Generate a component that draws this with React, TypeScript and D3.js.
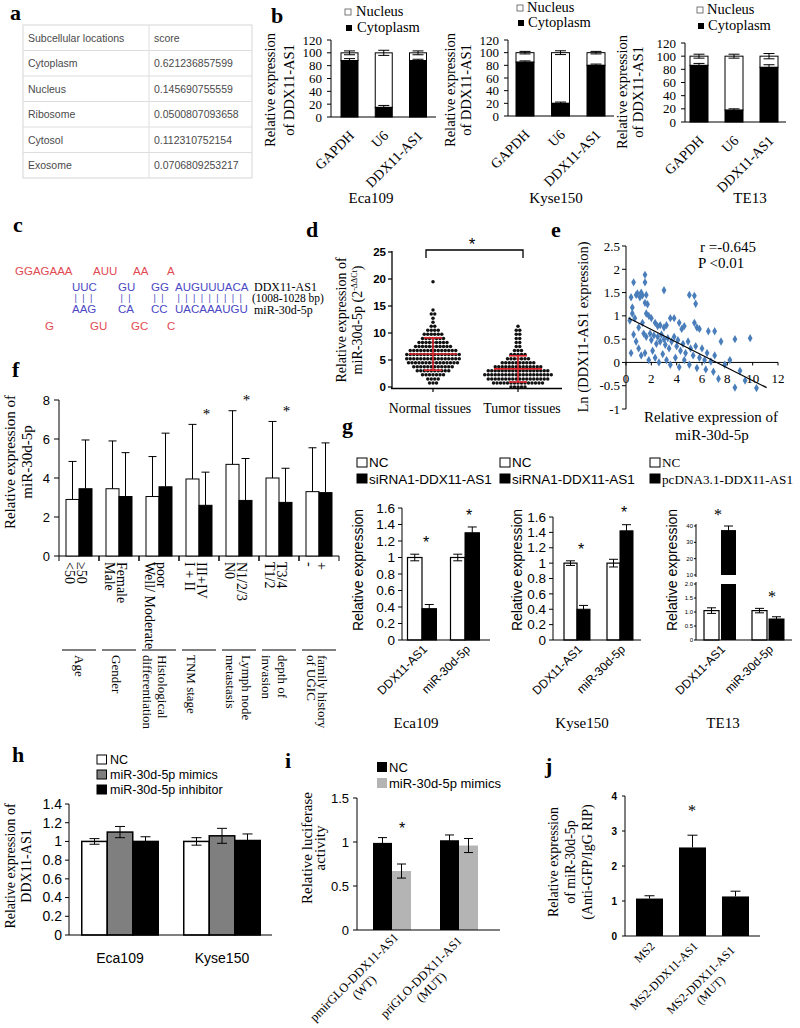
import React from "react";
import * as d3 from "d3";

const SERIF = "'Liberation Serif', 'Times New Roman', Times, serif";
const SANS = "'Liberation Sans', Arial, Helvetica, sans-serif";

// ---------------- a ----------------
const locNames = ["Cytoplasm", "Nucleus", "Ribosome", "Cytosol", "Exosome"];
const locScores = ["0.621236857599", "0.145690755559", "0.0500807093658", "0.112310752154", "0.0706809253217"];

// ---------------- b ----------------
const bGenes = ["GAPDH", "U6", "DDX11-AS1"];
const bCellLines = ["Eca109", "Kyse150", "TE13"];
const bCytoplasm = [[88, 15, 88], [85, 20, 80], [86, 18, 83]];
const bCytoErr = [[3, 3, 2], [2, 2, 2], [3, 2, 4]];
const bTotal = [[100, 100, 100], [100, 100, 100], [100, 100, 100]];
const bTotalErr = [[3, 4, 3], [2, 3, 2], [3, 3, 4]];
const bTicks = [0, 20, 40, 60, 80, 100, 120];

// ---------------- c ----------------
const cTopLoops = ["GGAGAAA", "AUU", "AA", "A"];
const cLncPaired = ["UUC", "GU", "GG", "AUGUUUACA"];
const cMirPaired = ["AAG", "CA", "CC", "UACAAAUGU"];
const cBottomLoops = ["G", "GU", "GC", "C"];
const cNames = ["DDX11-AS1", "(1008-1028 bp)", "miR-30d-5p"];

// ---------------- d ----------------
const dGroups = ["Normal tissues", "Tumor tissues"];
const dNormal = [
  0.6, 0.8, 0.9, 1.3, 1.5, 1.6, 1.7, 2.0, 2.1, 2.2, 2.3, 2.4, 2.5, 2.2,
  2.7, 2.8, 2.9, 3.0, 3.1, 3.2, 3.0, 2.9, 3.3, 2.8, 3.4, 3.5, 3.6, 3.7, 3.8, 3.9, 4.0, 3.6, 3.7, 3.8, 3.5, 4.1,
  4.2, 4.3, 4.4, 4.5, 4.6, 4.7, 4.8, 4.4, 4.5, 4.6, 4.3, 4.7, 4.2, 4.5, 4.8,
  4.9, 5.0, 5.1, 5.2, 5.3, 5.4, 5.5, 5.6, 5.0, 5.1, 5.2, 5.3, 5.4, 5.5, 4.9, 5.2,
  5.7, 5.8, 5.9, 6.0, 6.1, 6.2, 6.3, 5.8, 5.9, 6.0, 6.1, 6.2, 5.7, 6.3, 6.0, 5.9,
  6.4, 6.5, 6.6, 6.7, 6.8, 6.9, 7.0, 6.5, 6.6, 6.7, 6.8, 6.9, 6.4, 7.0,
  7.2, 7.3, 7.4, 7.5, 7.6, 7.7, 7.3, 7.4, 7.5, 7.6, 7.8, 7.9, 8.0, 8.2, 8.4, 8.5, 8.1, 8.3, 8.6, 8.0,
  8.7, 8.9, 9.0, 9.2, 9.3, 8.8, 9.1, 9.5, 9.7, 9.8, 10.0, 10.1, 9.9, 10.3, 10.5, 10.7, 10.4,
  11.0, 11.4, 12.1, 12.8, 13.4, 13.7, 14.2, 19.3,
];
const dTumor = [
  0.3, 0.2, 0.4, 0.3, 0.2, 0.35, 0.6, 0.7, 0.8, 0.9, 1.0, 1.1, 0.6, 0.7, 0.8, 0.9, 1.0, 0.8, 0.7, 1.1,
  1.2, 1.3, 1.4, 1.5, 1.6, 1.7, 1.8, 1.2, 1.3, 1.4, 1.5, 1.6, 1.7, 1.4, 1.5, 1.6, 1.3, 1.8,
  1.9, 2.0, 2.1, 2.2, 2.3, 2.4, 2.5, 2.6, 1.9, 2.0, 2.1, 2.2, 2.3, 2.4, 2.5, 2.2, 2.1, 2.3, 2.0, 2.4,
  2.7, 2.8, 2.9, 3.0, 3.1, 3.2, 3.3, 2.8, 2.9, 3.0, 3.1, 3.2, 2.7, 3.0, 2.9, 3.1, 3.3, 2.8,
  3.4, 3.5, 3.6, 3.7, 3.8, 3.9, 4.0, 3.5, 3.6, 3.7, 3.8, 3.9, 3.6, 3.7,
  4.2, 4.3, 4.5, 4.6, 4.8, 4.4, 4.5, 4.7, 4.3, 4.6, 4.9, 5.1, 5.3, 5.5, 5.0, 5.4, 5.2,
  5.7, 5.9, 6.1, 6.3, 6.0, 6.5, 6.8, 7.0, 7.4, 7.6, 8.0, 8.4, 8.8, 9.2, 9.6, 9.9, 10.3, 10.7, 11.1,
];
const dTicks = [0, 5, 10, 15, 20, 25];

// ---------------- e ----------------
const eX = [
  0.4, 0.5, 0.5, 0.6, 0.8, 0.9, 1.1, 1.2, 1.3, 1.5, 1.5, 1.5, 1.6, 1.7, 1.6, 1.8, 0.3, 0.7,
  2.0, 2.3, 2.5, 2.7, 3.0, 3.2, 3.5, 3.8, 4.2, 4.4, 4.6, 3.0, 5.0, 5.4, 5.5, 5.4, 5.6, 5.8, 6.5, 7.0, 7.5, 8.6, 9.8,
  1.4, 1.6, 1.9, 2.0, 2.2, 2.4, 2.5, 2.7, 2.8, 3.0, 3.1, 3.3, 3.4, 3.6, 3.8, 4.0, 4.1, 4.3, 4.5, 4.7, 4.9, 5.1, 5.3, 5.5, 5.8, 6.0, 6.2, 6.4, 6.7, 7.0,
  0.8, 1.0, 1.2, 1.5, 1.8, 2.1, 2.3, 2.6, 2.9, 3.2, 3.5, 3.9, 4.2, 4.6, 5.0, 5.6, 6.3, 6.9, 7.3, 7.8, 8.2, 8.6, 9.0, 9.4, 10.3, 0.4, 0.6, 1.0, 1.3,
];
const eY = [
  1.40, 1.05, 1.18, 1.72, 1.45, 1.48, 1.40, 1.50, 1.44, 1.72, 1.88, 1.28, 1.45, 1.25, 1.05, 1.00, 0.90, 0.95,
  0.95, 0.85, 0.78, 0.80, 0.75, 0.80, 0.95, 0.95, 0.85, 0.72, 0.78, 1.55, 1.45, 1.43, 1.26, 0.85, 0.75, 0.72, 0.67, 0.67, 0.45, 0.50, 0.52,
  0.62, 0.55, 0.62, 0.48, 0.58, 0.40, 0.55, 0.45, 0.60, 0.50, 0.38, 0.52, 0.30, 0.45, 0.55, 0.35, 0.48, 0.25, 0.40, 0.20, 0.45, 0.30, 0.15, 0.35, 0.10, 0.30, 0.05, 0.20, 0.02, 0.15,
  0.45, 0.30, 0.15, 0.20, 0.05, 0.25, 0.10, 0.00, 0.18, 0.05, -0.05, 0.10, -0.10, 0.05, -0.05, -0.12, -0.15, -0.20, -0.35, -0.05, 0.05, -0.54, -0.18, -0.39, -0.55, 0.20, 0.60, 0.75, 0.85,
];
const eFitIntercept = 0.98;
const eFitSlope = -0.137;
const eFitRange = [0.2, 11.1];
const eXTicks = [0, 2, 4, 6, 8, 10, 12];
const eYTicks = [-1, -0.5, 0, 0.5, 1, 1.5, 2, 2.5];

// ---------------- f ----------------
const fGroups = ["Age", "Gender", "Histological differentiation", "TNM stage", "Lymph node metastasis", "depth of invasion", "family history of UGIC"];
const fGroupLines = [["Age"], ["Gender"], ["Histological", "differentiation"], ["TNM stage"], ["Lymph node", "metastasis"], ["depth of", "invasion"], ["family history", "of UGIC"]];
const fSubLabels = [["<50", "≥50"], ["Male", "Female"], ["Well/ Moderate", "poor"], ["I + II", "III+IV"], ["N0", "N1/2/3"], ["T1/2", "T3/4"], ["-", "+"]];
const fWhite = [2.9, 3.45, 3.05, 3.95, 4.7, 4.0, 3.3];
const fWhiteSD = [1.95, 2.45, 2.05, 2.8, 2.75, 2.9, 2.25];
const fBlack = [3.45, 3.05, 3.55, 2.6, 2.85, 2.75, 3.25];
const fBlackSD = [2.5, 2.25, 2.75, 1.7, 2.15, 1.75, 2.55];
const fSignificant = [false, false, false, true, true, true, false];
const fTicks = [0, 2, 4, 6, 8];

// ---------------- g ----------------
const gCellLines = ["Eca109", "Kyse150", "TE13"];
const gGenes = ["DDX11-AS1", "miR-30d-5p"];
const gTreatNames = ["siRNA1-DDX11-AS1", "siRNA1-DDX11-AS1", "pcDNA3.1-DDX11-AS1"];
const gNC = [[1.0, 1.0], [1.0, 1.0], [1.05, 1.05]];
const gNCErr = [[0.04, 0.04], [0.03, 0.05], [0.1, 0.08]];
const gTreat = [[0.38, 1.3], [0.4, 1.42], [37.5, 0.75]];
const gTreatErr = [[0.05, 0.07], [0.05, 0.08], [2.5, 0.08]];
const gTicks = [0, 0.2, 0.4, 0.6, 0.8, 1, 1.2, 1.4, 1.6];
const gLowTicks = [0, 0.5, 1, 1.5, 2];
const gLowTickLabels = ["0", "0.5", "1.0", "1.5", "2.0"];
const gHighTicks = [10, 20, 30, 40];

// ---------------- h ----------------
const hCells = ["Eca109", "Kyse150"];
const hGroups = ["NC", "miR-30d-5p mimics", "miR-30d-5p inhibitor"];
const hValues = [[1.0, 1.1, 1.0], [1.0, 1.06, 1.01]];
const hErr = [[0.03, 0.06, 0.05], [0.04, 0.08, 0.07]];
const hColors = ["#ffffff", "#7f7f7f", "#000000"];
const hTicks = [0, 0.2, 0.4, 0.6, 0.8, 1, 1.2, 1.4];

// ---------------- i ----------------
const iConstructs = [["pmirGLO-DDX11-AS1", "(WT)"], ["priGLO-DDX11-AS1", "(MUT)"]];
const iGroups = ["NC", "miR-30d-5p mimics"];
const iNC = [0.99, 1.02];
const iNCErr = [0.06, 0.06];
const iMimic = [0.67, 0.96];
const iMimicErr = [0.08, 0.08];
const iTicks = [0, 0.5, 1, 1.5];

// ---------------- j ----------------
const jLabels = [["MS2"], ["MS2-DDX11-AS1"], ["MS2-DDX11-AS1", "(MUT)"]];
const jValues = [1.07, 2.53, 1.13];
const jErr = [0.08, 0.35, 0.15];
const jTicks = [0, 1, 2, 3, 4];

// ---------------- helpers ----------------
function Letter({ x, y, t }: any) {
  return <text x={x} y={y} fontFamily={SERIF} fontWeight="bold" fontSize={22}>{t}</text>;
}

function RText({ x, y, angle, size, family = SERIF, anchor = "middle", children, fill = "#000", weight }: any) {
  return (
    <text transform={`translate(${x},${y}) rotate(${angle})`} textAnchor={anchor} dy="0.35em"
      fontSize={size} fontFamily={family} fill={fill} fontWeight={weight}>{children}</text>
  );
}

function ErrBar({ x, lo, hi, cap, both = true, color = "#000", sw = 1 }: any) {
  return (
    <g stroke={color} strokeWidth={sw}>
      <line x1={x} x2={x} y1={lo} y2={hi} />
      <line x1={x - cap / 2} x2={x + cap / 2} y1={hi} y2={hi} />
      {both && <line x1={x - cap / 2} x2={x + cap / 2} y1={lo} y2={lo} />}
    </g>
  );
}

function Star({ x, cy, size = 16, family = SANS }: any) {
  return <text x={x} y={cy + size * 0.55} textAnchor="middle" fontSize={size} fontFamily={family} fill="#000">*</text>;
}

function YAxis({ x, scale, ticks, y0, y1, labels, size, family, tick = 4, gap = 2, weight }: any) {
  return (
    <g>
      <line x1={x} x2={x} y1={y0} y2={y1} stroke="#000" strokeWidth={1} />
      {ticks.map((t: number, i: number) => (
        <g key={i}>
          <line x1={x - tick} x2={x} y1={scale(t)} y2={scale(t)} stroke="#000" />
          <text x={x - tick - gap} y={scale(t)} dy="0.35em" textAnchor="end" fontSize={size} fontFamily={family} fontWeight={weight}>
            {labels ? labels[i] : String(t)}
          </text>
        </g>
      ))}
    </g>
  );
}

// ---------------- panels ----------------
function PanelA() {
  const rows = ["header", ...locNames];
  const y = d3.scaleBand().domain(rows).range([25, 178]);
  const left = 23, mid = 149, right = 252;
  const cy = (r: string) => (y(r) as number) + y.bandwidth() / 2 + 3.8;
  return (
    <g fontFamily={SANS} fontSize={10.5} fill="#4a4a4a">
      <rect x={left} y={25} width={right - left} height={153} fill="#fff" stroke="#d6d6d6" />
      {locNames.map((r) => (
        <line key={r} x1={left} x2={right} y1={y(r)} y2={y(r)} stroke="#dedede" />
      ))}
      <line x1={mid} x2={mid} y1={25} y2={178} stroke="#dedede" />
      <text x={28} y={cy("header")}>Subcellular locations</text>
      <text x={154} y={cy("header")}>score</text>
      {locNames.map((r, i) => (
        <g key={r}>
          <text x={28} y={cy(r)}>{r}</text>
          <text x={154} y={cy(r)}>{locScores[i]}</text>
        </g>
      ))}
    </g>
  );
}

const bLayout = [
  { axisX: 331, axisEnd: 436, y0: 117, yTop: 40, x0: 349.5, x1: 418, barW: 17, ylabX: [270, 289], ylabY: 90, sqX: 345, nucY: 16, cytY: 32, txtX: 356, titleX: 371 },
  { axisX: 508, axisEnd: 614, y0: 116, yTop: 40, x0: 525, x1: 596, barW: 18, ylabX: [450, 466], ylabY: 90, sqX: 517, nucY: 12, cytY: 27, txtX: 527, titleX: 556 },
  { axisX: 685, axisEnd: 786, y0: 122, yTop: 43, x0: 699, x1: 769, barW: 18, ylabX: [622, 638], ylabY: 92, sqX: 697, nucY: 14, cytY: 30, txtX: 707, titleX: 750 },
];

function PanelB() {
  return (
    <g>
      {bCellLines.map((cell, ci) => {
        const L = bLayout[ci];
        const y = d3.scaleLinear().domain([0, 120]).range([L.y0, L.yTop]);
        const x = d3.scalePoint().domain(bGenes).range([L.x0, L.x1]);
        const w = L.barW;
        return (
          <g key={cell}>
            <rect x={L.sqX} y={L.nucY - 7} width={6} height={6} fill="#fff" stroke="#555" strokeWidth={0.8} />
            <text x={L.txtX} y={L.nucY} fontSize={14.5} fontFamily={SERIF}>Nucleus</text>
            <rect x={L.sqX + 1} y={L.cytY - 7} width={6} height={6} fill="#000" />
            <text x={L.txtX + 1} y={L.cytY} fontSize={14.5} fontFamily={SERIF}>Cytoplasm</text>
            {bGenes.map((g, gi) => {
              const cx = x(g) as number;
              const cyto = bCytoplasm[ci][gi];
              const tot = bTotal[ci][gi];
              return (
                <g key={g}>
                  <rect x={cx - w / 2} y={y(tot)} width={w} height={y(cyto) - y(tot)} fill="#fff" stroke="#000" strokeWidth={1} />
                  <rect x={cx - w / 2} y={y(cyto)} width={w} height={y(0) - y(cyto)} fill="#000" stroke="#000" strokeWidth={1} />
                  <ErrBar x={cx} lo={y(cyto - bCytoErr[ci][gi])} hi={y(cyto + bCytoErr[ci][gi])} cap={11} />
                  <ErrBar x={cx} lo={y(tot - bTotalErr[ci][gi])} hi={y(tot + bTotalErr[ci][gi])} cap={11} />
                  <RText x={cx + 2} y={L.y0 + 16} angle={-45} size={14} anchor="end">{g}</RText>
                </g>
              );
            })}
            <YAxis x={L.axisX} scale={y} ticks={bTicks} y0={L.y0} y1={L.yTop} size={13} family={SERIF} tick={4} gap={5} />
            <line x1={L.axisX} x2={L.axisEnd} y1={L.y0} y2={L.y0} stroke="#000" />
            <RText x={L.ylabX[0]} y={L.ylabY} angle={-90} size={14.5}>Relative expression</RText>
            <RText x={L.ylabX[1]} y={L.ylabY} angle={-90} size={14.5}>of DDX11-AS1</RText>
            <text x={L.titleX} y={203} textAnchor="middle" fontSize={15} fontFamily={SERIF}>{cell}</text>
          </g>
        );
      })}
    </g>
  );
}

function PanelC() {
  const red = "#e24a52";
  const blue = "#4b48c4";
  const topX = [15, 93, 133, 167];
  const pairX = [72, 118, 151, 175];
  const botX = [45, 90, 131, 167];
  const pitch = 7.9;
  return (
    <g fontFamily={SANS} fontSize={11.5}>
      {cTopLoops.map((s, i) => <text key={"t" + i} x={topX[i]} y={275} fill={red}>{s}</text>)}
      {cLncPaired.map((s, i) => <text key={"l" + i} x={pairX[i]} y={291} fill={blue}>{s}</text>)}
      {cLncPaired.map((s, i) => (
        <text key={"p" + i} x={pairX[i] + 2.5} y={301} fill={blue} fontSize={9} letterSpacing={pitch - 2.5}>
          {s.split("").map(() => "|").join("")}
        </text>
      ))}
      {cMirPaired.map((s, i) => <text key={"m" + i} x={pairX[i]} y={313} fill={blue}>{s}</text>)}
      {cBottomLoops.map((s, i) => <text key={"b" + i} x={botX[i]} y={330} fill={red}>{s}</text>)}
      <text x={254} y={291} fontFamily={SERIF} fontSize={12}>{cNames[0]}</text>
      <text x={252} y={302} fontFamily={SERIF} fontSize={11.5}>{cNames[1]}</text>
      <text x={254} y={313.5} fontFamily={SERIF} fontSize={12}>{cNames[2]}</text>
    </g>
  );
}

function PanelD() {
  const y = d3.scaleLinear().domain([0, 25]).range([387, 252]);
  const x = d3.scalePoint().domain(dGroups).range([433, 518]);
  const sets = [dNormal, dTumor];
  const bin = 0.75;
  const sp = 3.5;
  const labelX = [430, 522];
  return (
    <g>
      <line x1={392} x2={392} y1={y(25) - 1} y2={389} stroke="#000" strokeWidth={1.3} />
      <line x1={391} x2={562} y1={388.5} y2={388.5} stroke="#000" strokeWidth={1.3} />
      {dTicks.map((t) => (
        <g key={t}>
          <line x1={388} x2={392} y1={y(t)} y2={y(t)} stroke="#000" strokeWidth={1.2} />
          <text x={386} y={y(t)} dy="0.35em" textAnchor="end" fontFamily={SANS} fontWeight="bold" fontSize={11.5}>{t}</text>
        </g>
      ))}
      {dGroups.map((g, gi) => (
        <g key={g}>
          <line x1={x(g)} x2={x(g)} y1={388} y2={392} stroke="#000" strokeWidth={1.2} />
          <text x={labelX[gi]} y={413} textAnchor="middle" fontFamily={SERIF} fontSize={13.8}>{g}</text>
        </g>
      ))}
      {sets.map((vals, si) => {
        const cx = x(dGroups[si]) as number;
        const rows = d3.groups(vals, (v) => Math.round(v / bin));
        return rows.flatMap(([k, arr]) =>
          arr.map((v, j) => (
            <circle key={si + "-" + k + "-" + j} cx={cx + (j - (arr.length - 1) / 2) * sp} cy={y(k * bin)} r={1.75} fill="#111" />
          ))
        );
      })}
      {sets.map((vals, si) => {
        const cx = x(dGroups[si]) as number;
        const m = d3.mean(vals) as number;
        const sd = d3.deviation(vals) as number;
        return (
          <g key={"ms" + si} stroke="#e0242c" strokeWidth={1.6}>
            <line x1={cx - 24} x2={cx + 24} y1={y(m)} y2={y(m)} />
            <line x1={cx} x2={cx} y1={y(Math.max(0, m - sd))} y2={y(m + sd)} />
            <line x1={cx - 9} x2={cx + 9} y1={y(m + sd)} y2={y(m + sd)} />
            <line x1={cx - 9} x2={cx + 9} y1={y(Math.max(0, m - sd))} y2={y(Math.max(0, m - sd))} />
          </g>
        );
      })}
      <path d="M426,258 V250 H523 V258" fill="none" stroke="#000" strokeWidth={1.3} />
      <Star x={472} cy={241} size={17} />
      <RText x={341} y={320} angle={-90} size={14}>Relative expression of</RText>
      <text transform="translate(357,320) rotate(-90)" textAnchor="middle" dy="0.35em" fontSize={14} fontFamily={SERIF}>
        miR-30d-5p (2<tspan fontSize={8} dy={-5}>-ΔΔCt</tspan><tspan dy={5}>)</tspan>
      </text>
    </g>
  );
}

function PanelE() {
  const x = d3.scaleLinear().domain([0, 12]).range([626, 778]);
  const y = d3.scaleLinear().domain([-1, 2.5]).range([409, 246]);
  const sym = d3.symbol().type(d3.symbolDiamond).size(20)() as string;
  const fit = d3.line<number>().x((v) => x(v)).y((v) => y(eFitIntercept + eFitSlope * v));
  return (
    <g fontFamily={SERIF}>
      <YAxis x={626} scale={y} ticks={eYTicks} y0={y(-1)} y1={y(2.5)} size={13} family={SERIF} />
      <line x1={626} x2={x(12)} y1={y(0)} y2={y(0)} stroke="#000" />
      {eXTicks.map((t) => (
        <g key={t}>
          <line x1={x(t)} x2={x(t)} y1={y(0)} y2={y(0) + 3} stroke="#000" />
          <text x={x(t)} y={383} textAnchor="middle" fontSize={13}>{t}</text>
        </g>
      ))}
      {eX.map((v, i) => (
        <path key={i} d={sym} transform={`translate(${x(v)},${y(eY[i])})`} fill="#4a7ebb" />
      ))}
      <path d={fit(eFitRange) as string} stroke="#000" strokeWidth={1.2} fill="none" />
      <text x={700} y={252} fontSize={15}>r =-0.645</text>
      <text x={698} y={268} fontSize={15}>P &lt;0.01</text>
      <RText x={583} y={327} angle={-90} size={14.5}>Ln (DDX11-AS1 expression)</RText>
      <text x={711} y={422} textAnchor="middle" fontSize={15}>Relative expression of</text>
      <text x={712} y={440} textAnchor="middle" fontSize={15}>miR-30d-5p</text>
    </g>
  );
}

function PanelF() {
  const y = d3.scaleLinear().domain([0, 8]).range([556, 400]);
  const x = d3.scaleBand().domain(fGroups).range([59, 339]);
  const bw = 13;
  const subOff = [-9, 3];
  const grpOff = [[1], [-2], [4, -11], [-7], [8, -8], [4, -12], [4, -7]];
  return (
    <g>
      <YAxis x={59} scale={y} ticks={fTicks} y0={556} y1={400} size={13} family={SANS} tick={5} gap={4} />
      <line x1={59} x2={339} y1={556} y2={556} stroke="#000" />
      {fGroups.map((g, i) => {
        const x0 = x(g) as number;
        const cx = x0 + x.bandwidth() / 2;
        const wTop = fWhite[i] + fWhiteSD[i];
        const bTop = fBlack[i] + fBlackSD[i];
        return (
          <g key={g}>
            <line x1={x0 + x.bandwidth()} x2={x0 + x.bandwidth()} y1={556} y2={561} stroke="#000" />
            <line x1={x0} x2={x0} y1={556} y2={561} stroke="#000" />
            <rect x={cx - bw} y={y(fWhite[i])} width={bw} height={556 - y(fWhite[i])} fill="#fff" stroke="#000" />
            <rect x={cx} y={y(fBlack[i])} width={bw} height={556 - y(fBlack[i])} fill="#000" stroke="#000" />
            <ErrBar x={cx - bw / 2} lo={y(fWhite[i])} hi={y(wTop)} cap={8} both={false} />
            <ErrBar x={cx + bw / 2} lo={y(fBlack[i])} hi={y(bTop)} cap={8} both={false} />
            {fSignificant[i] && <Star x={cx + bw / 2 + 1} cy={y(Math.max(wTop, bTop) + 0.72)} size={15} family={SERIF} />}
            {fSubLabels[i].map((s, k) => (
              <RText key={k} x={cx + subOff[k]} y={562} angle={90} size={14} anchor="start">{s}</RText>
            ))}
            <line x1={x0 + 3} x2={x0 + x.bandwidth() - 3} y1={650} y2={650} stroke="#000" />
            {fGroupLines[i].map((s, k) => (
              <RText key={"g" + k} x={cx + grpOff[i][k]} y={655} angle={90} size={13} anchor="start">{s}</RText>
            ))}
          </g>
        );
      })}
      <RText x={10} y={462} angle={-90} size={15}>Relative expression of</RText>
      <RText x={27} y={462} angle={-90} size={15}>miR-30d-5p</RText>
    </g>
  );
}

const gLayout = [
  { axisX: 402, axisEnd: 490, yTop: 508, c0: 422, c1: 465, bw: 14.5, ylabX: 358, legX: 357, titleX: 416 },
  { axisX: 553, axisEnd: 641, yTop: 517, c0: 577, c1: 620, bw: 13, ylabX: 517, legX: 500, titleX: 582 },
  { axisX: 696, axisEnd: 792, yTop: 526, c0: 720, c1: 768, bw: 15, ylabX: 672, legX: 650, titleX: 723 },
];

function PanelG() {
  const y0 = 640;
  const yLow = d3.scaleLinear().domain([0, 2]).range([y0, 584]);
  const yHigh = d3.scaleLinear().domain([10, 40]).range([575, 526]);
  return (
    <g>
      {gCellLines.map((cell, ci) => {
        const L = gLayout[ci];
        const broken = ci === 2;
        const yLin = d3.scaleLinear().domain([0, 1.6]).range([y0, L.yTop]);
        const Y = (v: number) => (broken ? (v <= 2 ? yLow(v) : yHigh(v)) : yLin(v));
        const x = d3.scalePoint().domain(gGenes).range([L.c0, L.c1]);
        const bw = L.bw;
        const gap = broken ? 1 : 0;
        const legFam = broken ? SERIF : SANS;
        const legSize = broken ? 13.2 : 13.5;
        return (
          <g key={cell}>
            <rect x={L.legX} y={458} width={10} height={9} fill="#fff" stroke="#000" />
            <text x={L.legX + 12} y={467} fontSize={legSize} fontFamily={legFam}>NC</text>
            <rect x={L.legX} y={474} width={10} height={9} fill="#000" stroke="#000" />
            <text x={L.legX + 12} y={483.5} fontSize={legSize} fontFamily={legFam}>{gTreatNames[ci]}</text>
            {gGenes.map((g, gi) => {
              const cx = x(g) as number;
              const nc = gNC[ci][gi];
              const tr = gTreat[ci][gi];
              const ncTop = nc + gNCErr[ci][gi];
              const trTop = tr + gTreatErr[ci][gi];
              const wx = cx - bw - gap;
              const bx = cx + gap;
              return (
                <g key={g}>
                  <rect x={wx} y={Y(nc)} width={bw} height={y0 - Y(nc)} fill="#fff" stroke="#000" strokeWidth={1.2} />
                  {broken && tr > 2 ? (
                    <g>
                      <rect x={bx} y={Y(tr)} width={bw} height={yHigh(10) - Y(tr)} fill="#000" />
                      <rect x={bx} y={yLow(2)} width={bw} height={y0 - yLow(2)} fill="#000" />
                    </g>
                  ) : (
                    <rect x={bx} y={Y(tr)} width={bw} height={y0 - Y(tr)} fill="#000" stroke="#000" />
                  )}
                  <ErrBar x={wx + bw / 2} lo={Y(nc - gNCErr[ci][gi])} hi={Y(ncTop)} cap={9} />
                  <ErrBar x={bx + bw / 2} lo={Y(tr - gTreatErr[ci][gi])} hi={Y(trTop)} cap={9} color={"#000"} />
                  <Star x={cx + (broken ? (tr > 2 ? -2 : 4) : 4)} cy={Math.min(Y(ncTop), Y(trTop)) - 15} size={16} family={broken ? SERIF : SANS} />
                  <RText x={cx + 3} y={y0 + 7} angle={-45} size={12} family={SANS} anchor="end">{g}</RText>
                </g>
              );
            })}
            {broken ? (
              <g>
                <YAxis x={L.axisX} scale={yLow} ticks={gLowTicks} labels={gLowTickLabels} y0={y0} y1={582} size={6} family={SANS} tick={2} gap={1} />
                <YAxis x={L.axisX} scale={yHigh} ticks={gHighTicks} y0={577} y1={524} size={6} family={SANS} tick={2} gap={1} />
              </g>
            ) : (
              <YAxis x={L.axisX} scale={yLin} ticks={gTicks} y0={y0} y1={L.yTop} size={13.5} family={SANS} tick={4} gap={3} />
            )}
            <line x1={L.axisX} x2={L.axisEnd} y1={y0} y2={y0} stroke="#000" />
            <RText x={L.ylabX} y={570} angle={-90} size={14} family={SANS}>Relative expression</RText>
            <text x={L.titleX} y={728} textAnchor="middle" fontSize={15} fontFamily={SERIF}>{cell}</text>
          </g>
        );
      })}
    </g>
  );
}

function PanelH() {
  const y = d3.scaleLinear().domain([0, 1.4]).range([935, 804]);
  const x = d3.scalePoint().domain(hCells).range([120, 222]);
  const bw = 25.5;
  return (
    <g>
      {hGroups.map((g, k) => (
        <g key={g}>
          <rect x={97} y={755 + k * 15} width={9.5} height={9} fill={hColors[k]} stroke="#000" />
          <text x={110} y={764 + k * 15} fontSize={12.5} fontFamily={SANS}>{g}</text>
        </g>
      ))}
      {hCells.map((c, ci) => {
        const cx = x(c) as number;
        return (
          <g key={c}>
            {hGroups.map((g, k) => {
              const bx = cx - 1.5 * bw + k * bw;
              const v = hValues[ci][k];
              return (
                <g key={g}>
                  <rect x={bx} y={y(v)} width={bw} height={935 - y(v)} fill={hColors[k]} stroke="#000" strokeWidth={1.5} />
                  <ErrBar x={bx + bw / 2} lo={y(v - hErr[ci][k])} hi={y(v + hErr[ci][k])} cap={10} />
                </g>
              );
            })}
            <text x={cx} y={963} textAnchor="middle" fontSize={14} fontFamily={SANS}>{c}</text>
          </g>
        );
      })}
      <YAxis x={69} scale={y} ticks={hTicks} y0={935} y1={804} size={14} family={SANS} tick={4} gap={3} />
      <line x1={69} x2={272} y1={935} y2={935} stroke="#000" />
      <RText x={10} y={866} angle={-90} size={14}>Relative expression of</RText>
      <RText x={26} y={866} angle={-90} size={14}>DDX11-AS1</RText>
    </g>
  );
}

function PanelI() {
  const y = d3.scaleLinear().domain([0, 1.5]).range([930, 798]);
  const x = d3.scalePoint().domain(iConstructs.map((d) => d[0])).range([392, 459]);
  const bw = 19;
  const colors = ["#000000", "#b4b4b4"];
  return (
    <g>
      {iGroups.map((g, k) => (
        <g key={g}>
          <rect x={377} y={762 + k * 16} width={10} height={10} fill={colors[k]} />
          <text x={389} y={772 + k * 16} fontSize={13} fontFamily={SANS}>{g}</text>
        </g>
      ))}
      {iConstructs.map((c, ci) => {
        const cx = x(c[0]) as number;
        const vals = [iNC[ci], iMimic[ci]];
        const errs = [iNCErr[ci], iMimicErr[ci]];
        return (
          <g key={c[0]}>
            {vals.map((v, k) => {
              const bx = cx - bw + k * bw;
              return (
                <g key={k}>
                  <rect x={bx} y={y(v)} width={bw} height={930 - y(v)} fill={colors[k]} />
                  <ErrBar x={bx + bw / 2} lo={y(v - errs[k])} hi={y(v + errs[k])} cap={9} />
                </g>
              );
            })}
            <RText x={cx - 38} y={977} angle={-45} size={12.5}>{c[0]}</RText>
            <RText x={cx - 38 + 10} y={977 + 10} angle={-45} size={12.5}>{c[1]}</RText>
          </g>
        );
      })}
      <Star x={402} cy={825} size={16} />
      <YAxis x={357} scale={y} ticks={iTicks} y0={930} y1={798} size={13} family={SANS} tick={4} gap={4} />
      <line x1={357} x2={500} y1={930} y2={930} stroke="#000" />
      <RText x={307} y={848} angle={-90} size={15}>Relative luciferase</RText>
      <RText x={320} y={848} angle={-90} size={15}>activity</RText>
    </g>
  );
}

function PanelJ() {
  const y = d3.scaleLinear().domain([0, 4]).range([936, 796]);
  const x = d3.scalePoint().domain(jLabels.map((d) => d.join(" "))).range([649.5, 735.5]);
  const bw = 27;
  return (
    <g>
      {jLabels.map((lab, i) => {
        const cx = x(lab.join(" ")) as number;
        const v = jValues[i];
        return (
          <g key={i}>
            <rect x={cx - bw / 2} y={y(v)} width={bw} height={936 - y(v)} fill="#000" />
            <ErrBar x={cx} lo={y(v)} hi={y(v + jErr[i])} cap={10} both={false} />
            {lab.length === 1 ? (
              <RText x={cx + 3} y={944} angle={-45} size={12} anchor="end">{lab[0]}</RText>
            ) : (
              <g>
                <RText x={cx - 35} y={980} angle={-45} size={12}>{lab[0]}</RText>
                <RText x={cx - 25} y={990} angle={-45} size={12}>{lab[1]}</RText>
              </g>
            )}
          </g>
        );
      })}
      <Star x={692} cy={807} size={16} family={SERIF} />
      <YAxis x={625} scale={y} ticks={jTicks} y0={936} y1={796} size={10} family={SANS} tick={3} gap={5} weight="bold" />
      <line x1={625} x2={760} y1={936} y2={936} stroke="#000" />
      <RText x={553} y={862} angle={-90} size={14}>Relative expression</RText>
      <RText x={570} y={862} angle={-90} size={14}>of miR-30d-5p</RText>
      <RText x={587} y={862} angle={-90} size={14}>(Anti-GFP/IgG RIP)</RText>
    </g>
  );
}

export default function App() {
  return (
    <svg width={800} height={1028} viewBox="0 0 800 1028" style={{ position: "absolute", left: 0, top: 0, background: "#fff" }} fontFamily={SERIF}>
      <rect x={0} y={0} width={800} height={1028} fill="#fff" />
      <Letter x={10} y={20} t="a" />
      <Letter x={271} y={23} t="b" />
      <Letter x={13} y={232} t="c" />
      <Letter x={306} y={237} t="d" />
      <Letter x={551} y={237} t="e" />
      <Letter x={12} y={377} t="f" />
      <Letter x={342} y={433} t="g" />
      <Letter x={12} y={762} t="h" />
      <Letter x={285} y={768} t="i" />
      <Letter x={545} y={773} t="j" />
      <PanelA />
      <PanelB />
      <PanelC />
      <PanelD />
      <PanelE />
      <PanelF />
      <PanelG />
      <PanelH />
      <PanelI />
      <PanelJ />
    </svg>
  );
}
